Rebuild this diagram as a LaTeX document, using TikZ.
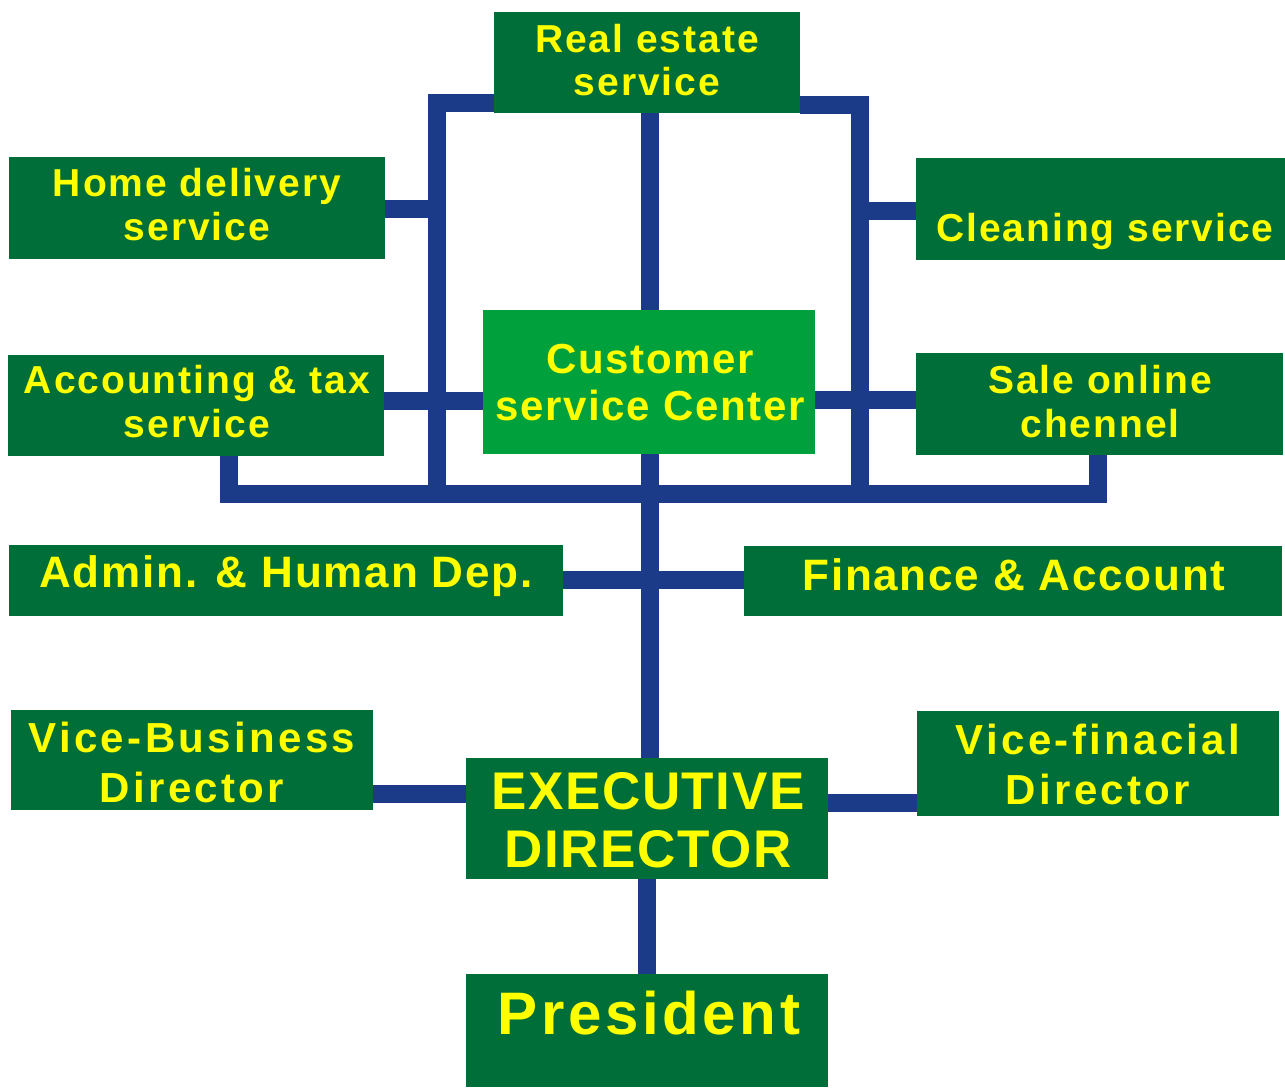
\documentclass[tikz,border=0pt]{standalone}
\usepackage{fontspec}
\setmainfont{Liberation Sans}
\definecolor{dgreen}{RGB}{0,110,56}
\definecolor{lgreen}{RGB}{0,160,60}
\definecolor{cblue}{RGB}{27,58,135}
\definecolor{tyellow}{RGB}{255,255,0}
\newcommand{\fs}[3]{\fontsize{#1}{#2}\selectfont\bfseries\addfontfeatures{LetterSpace=#3}}
\begin{document}
\begin{tikzpicture}[x=1pt,y=-1pt,
  box/.style={fill=dgreen, draw=none, inner sep=0pt, outer sep=0pt},
  lbox/.style={fill=lgreen, draw=none, inner sep=0pt, outer sep=0pt},
  txt/.style={text=tyellow, align=center, inner sep=0pt},
  conn/.style={draw=cblue, line width=18pt, line join=miter}]
\useasboundingbox[fill=white] (0,0) rectangle (1285,1087);

% boxes
\node[box, minimum width=306pt, minimum height=101pt] (re) at (647,62.5) {};
\node[box, minimum width=376pt, minimum height=102pt] (hd) at (197,208) {};
\node[box, minimum width=369pt, minimum height=102pt] (cl) at (1100.5,209) {};
\node[box, minimum width=376pt, minimum height=101pt] (acc) at (196,405.5) {};
\node[lbox, minimum width=332pt, minimum height=144pt] (csc) at (649,382) {};
\node[box, minimum width=367pt, minimum height=102pt] (sale) at (1099.5,404) {};
\node[box, minimum width=554pt, minimum height=71pt] (adm) at (286,580.5) {};
\node[box, minimum width=538pt, minimum height=70pt] (fin) at (1013,581) {};
\node[box, minimum width=362pt, minimum height=100pt] (vb) at (192,760) {};
\node[box, minimum width=362pt, minimum height=121pt] (exec) at (647,818.5) {};
\node[box, minimum width=362pt, minimum height=105pt] (vf) at (1098,763.5) {};
\node[box, minimum width=362pt, minimum height=113pt] (pres) at (647,1030.5) {};

% connector reference coordinates
\coordinate (lbx) at (437,0);
\coordinate (rbx) at (860,0);
\coordinate (tly) at (0,103);
\coordinate (try) at (0,104.5);
\coordinate (busy) at (0,493.5);
\coordinate (stubL) at (229,0);
\coordinate (stubR) at (1098,0);
\coordinate (trx) at (650,0);
\coordinate (accy) at (0,401);
\coordinate (saley) at (0,400);
\coordinate (hdy) at (0,208.5);
\coordinate (cly) at (0,211);
\coordinate (afy) at (0,580);
\coordinate (vby) at (0,794);
\coordinate (vfy) at (0,803);
\coordinate (cx) at (649.5,0);
\coordinate (px) at (647,0);

% connectors
\draw[conn] (re.west |- tly) -| (lbx |- busy);
\draw[conn] (re.east |- try) -| (rbx |- busy);
\draw[conn] (cx |- re.south) -- (cx |- csc.north);
\draw[conn] (hd.east |- hdy) -- (lbx |- hdy);
\draw[conn] (cl.west |- cly) -- (rbx |- cly);
\draw[conn] (acc.east |- accy) -- (csc.west |- accy);
\draw[conn] (csc.east |- saley) -- (sale.west |- saley);
\draw[conn] (stubL |- acc.south) -- (stubL |- busy) -- (stubR |- busy) -- (stubR |- sale.south);
\draw[conn] (cx |- csc.south) -- (cx |- busy);
\draw[conn] (trx |- busy) -- (trx |- exec.north);
\draw[conn] (adm.east |- afy) -- (fin.west |- afy);
\draw[conn] (vb.east |- vby) -- (exec.west |- vby);
\draw[conn] (exec.east |- vfy) -- (vf.west |- vfy);
\draw[conn] (px |- exec.south) -- (px |- pres.north);

% redraw boxes on top of connectors
\foreach \n in {re,hd,cl,acc,sale,adm,fin,vb,exec,vf,pres}{
  \fill[dgreen] (\n.south west) rectangle (\n.north east);
}
\fill[lgreen] (csc.south west) rectangle (csc.north east);

% texts
\node[txt, font=\fs{39}{43}{5}] (ret) at (647,60) {Real estate\\service};
\node[txt, font=\fs{39}{44}{5}] (hdt) at (197,205) {Home delivery\\service};
\node[txt, font=\fs{39}{44}{5}] (clt) at (1105,231) {Cleaning service};
\node[txt, font=\fs{39}{44}{5}] (acct) at (197,402) {Accounting \& tax\\service};
\node[txt, font=\fs{42}{47}{4}] (csct) at (650,383) {Customer\\service Center};
\node[txt, font=\fs{39}{44}{5}] (salet) at (1100,402) {Sale online\\chennel};
\node[txt, font=\fs{44}{50}{4}] (admt) at (286,576) {Admin. \& Human Dep.};
\node[txt, font=\fs{44}{50}{4}] (fint) at (1014,575) {Finance \& Account};
\node[txt, font=\fs{42}{50}{8}] (vbt) at (192,762) {Vice-Business\\Director};
\node[txt, font=\fs{42}{50}{8}] (vft) at (1098,764) {Vice-finacial\\Director};
\node[txt, font=\fs{53}{58}{3}] (exect) at (648,820) {EXECUTIVE\\DIRECTOR};
\node[txt, font=\fs{60}{66}{6}] (prest) at (649,1013) {President};
\end{tikzpicture}
\end{document}
